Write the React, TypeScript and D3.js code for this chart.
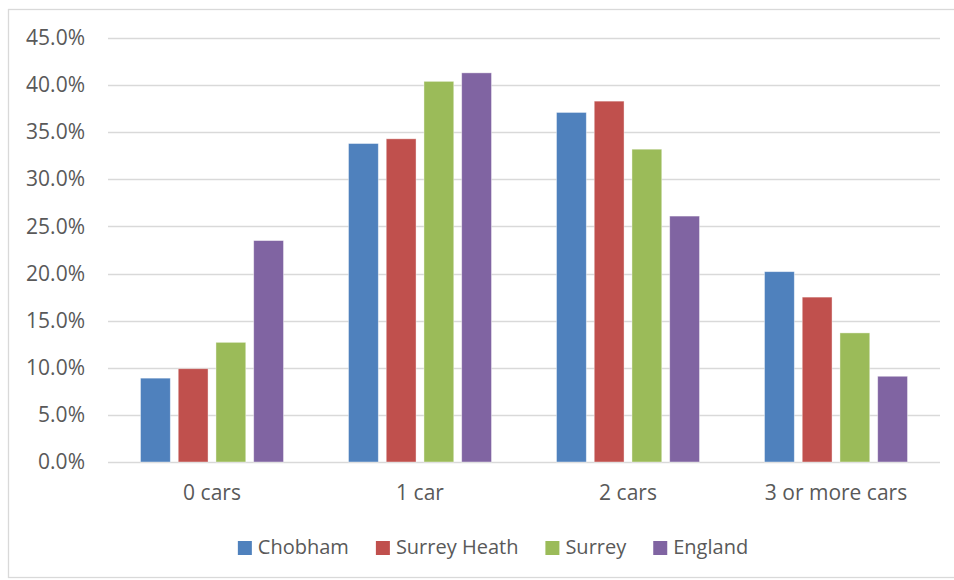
import { useEffect, useRef } from 'react';
import * as d3 from 'd3';

const categories = ['0 cars', '1 car', '2 cars', '3 or more cars'];
const seriesNames = ['Chobham', 'Surrey Heath', 'Surrey', 'England'];
const seriesColors = ['#4F81BD', '#C0504D', '#9BBB59', '#8064A2'];

// values in %, one array per series, in category order
const chobham = [8.9, 33.8, 37.1, 20.2];
const surreyHeath = [9.9, 34.3, 38.3, 17.5];
const surrey = [12.7, 40.4, 33.2, 13.7];
const england = [23.5, 41.3, 26.1, 9.1];

const yTicks = [0, 5, 10, 15, 20, 25, 30, 35, 40, 45];

const seriesValues = [chobham, surreyHeath, surrey, england];

export default function App() {
  const svgRef = useRef<SVGSVGElement>(null);

  useEffect(() => {
    if (!svgRef.current) return;
    const width = 954;
    const height = 580;
    const svg = d3.select(svgRef.current);
    svg.selectAll('*').remove();
    svg.attr('width', width).attr('height', height);

    const font = "'Open Sans', 'Noto Sans', sans-serif";
    const textColor = '#595959';
    const gridColor = '#d9d9d9';

    // chart border
    svg.append('rect')
      .attr('x', 8.5)
      .attr('y', 9.5)
      .attr('width', 980)
      .attr('height', 568)
      .attr('fill', 'white')
      .attr('stroke', gridColor)
      .attr('stroke-width', 1.3);

    const plot = { left: 108, right: 940, top: 38, bottom: 462 };

    const y = d3.scaleLinear()
      .domain([0, 45])
      .range([plot.bottom, plot.top]);

    const x0 = d3.scaleBand()
      .domain(categories)
      .range([plot.left, plot.right])
      .paddingInner(0.3125)
      .paddingOuter(0.15625);

    const x1 = d3.scaleBand()
      .domain(seriesNames)
      .range([0, x0.bandwidth()])
      .paddingInner(0.21);

    // gridlines
    svg.append('g')
      .selectAll('line')
      .data(yTicks)
      .join('line')
      .attr('x1', plot.left)
      .attr('x2', plot.right)
      .attr('y1', d => Math.round(y(d)) + 0.5)
      .attr('y2', d => Math.round(y(d)) + 0.5)
      .attr('stroke', gridColor)
      .attr('stroke-width', 1.3);

    // y tick labels
    svg.append('g')
      .selectAll('text')
      .data(yTicks)
      .join('text')
      .attr('x', 85)
      .attr('y', d => y(d))
      .attr('dy', '0.34em')
      .attr('text-anchor', 'end')
      .attr('font-family', font)
      .attr('font-size', '21px')
      .attr('fill', textColor)
      .text(d => `${d.toFixed(1)}%`);

    // bars
    const groups = svg.append('g')
      .selectAll('g')
      .data(categories)
      .join('g')
      .attr('transform', d => `translate(${x0(d)},0)`);

    groups.selectAll('rect')
      .data((_, i) => seriesNames.map((name, s) => ({ name, s, value: seriesValues[s][i] })))
      .join('rect')
      .attr('x', d => x1(d.name) || 0)
      .attr('y', d => y(d.value))
      .attr('width', x1.bandwidth())
      .attr('height', d => y(0) - y(d.value))
      .attr('fill', d => seriesColors[d.s])
      .attr('stroke', 'white')
      .attr('stroke-opacity', 0.5)
      .attr('stroke-width', 0.8);

    // category labels
    svg.append('g')
      .selectAll('text')
      .data(categories)
      .join('text')
      .attr('x', d => (x0(d) || 0) + x0.bandwidth() / 2)
      .attr('y', 500)
      .attr('text-anchor', 'middle')
      .attr('font-family', font)
      .attr('font-size', '21px')
      .attr('fill', textColor)
      .text(d => d);

    // legend
    const legend = svg.append('g');
    let cx = 0;
    seriesNames.forEach((name, i) => {
      const item = legend.append('g').attr('transform', `translate(${cx},0)`);
      item.append('rect')
        .attr('x', 0)
        .attr('y', -13)
        .attr('width', 14)
        .attr('height', 14)
        .attr('fill', seriesColors[i]);
      const t = item.append('text')
        .attr('x', 20)
        .attr('y', 0)
        .attr('font-family', font)
        .attr('font-size', '20px')
        .attr('fill', textColor)
        .text(name);
      const w = (t.node() as SVGTextElement).getComputedTextLength();
      cx += 20 + w + 27;
    });
    const total = cx - 27;
    legend.attr('transform', `translate(${493 - total / 2},554)`);
  }, []);

  return (
    <svg
      ref={svgRef}
      style={{ position: 'absolute', left: 0, top: 0, display: 'block' }}
    />
  );
}
